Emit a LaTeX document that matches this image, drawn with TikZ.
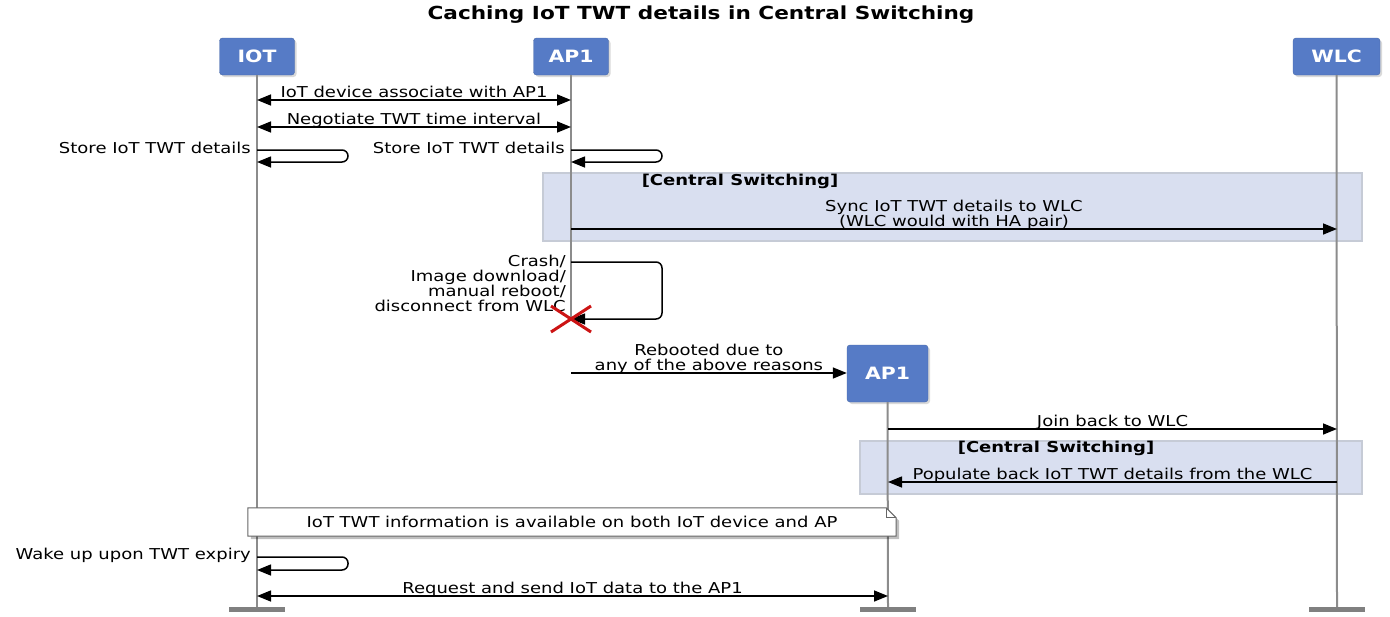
\documentclass[tikz,border=0pt]{standalone}
\usepackage{fontspec}
\setmainfont{DejaVu Sans}[FakeStretch=1.2]
\usepackage{tikz}
\usetikzlibrary{arrows.meta,positioning,shadows}

\definecolor{partblue}{RGB}{86,123,198}
\definecolor{grpfill}{RGB}{217,223,240}
\definecolor{grpline}{RGB}{198,203,214}
\definecolor{lifegrey}{RGB}{140,140,140}
\definecolor{crashred}{RGB}{204,20,20}

\begin{document}
\begin{tikzpicture}[x=1pt, y=-1pt, font=\fontsize{15}{16}\selectfont]
\tikzstyle{part}=[rectangle, rounded corners=3pt, fill=partblue, draw=partblue!85!black,
                  text=white, font=\fontsize{17}{18}\selectfont\bfseries,
                  minimum width=75pt, minimum height=37pt,
                  drop shadow={shadow xshift=2pt, shadow yshift=-2pt, opacity=.3}]
\tikzstyle{life}=[line width=2pt, lifegrey]
\tikzstyle{foot}=[rectangle, fill=gray, inner sep=0pt, minimum width=56pt, minimum height=5pt]
\tikzstyle{msg}=[line width=1.5pt, -{Triangle[length=14pt,width=11pt]}]
\tikzstyle{dmsg}=[line width=1.5pt, {Triangle[length=14pt,width=11pt]}-{Triangle[length=14pt,width=11pt]}]
\tikzstyle{lbl}=[anchor=base, inner sep=0pt, yshift=2.5pt]
\tikzstyle{mlbl}=[above, inner sep=0pt, yshift=-1.5pt, align=center, font=\fontsize{15}{15}\selectfont]
\tikzstyle{grp}=[rectangle, fill=grpfill, draw=grpline, line width=1.5pt, inner sep=0pt]
\tikzstyle{grplabel}=[font=\fontsize{15}{16}\selectfont\bfseries]
\useasboundingbox (0,0) rectangle (1390,616);

% title
\node[font=\fontsize{18}{20}\selectfont\bfseries] (title) at (701,15)
     {Caching IoT TWT details in Central Switching};

% group boxes
\node[grp, minimum width=819pt, minimum height=68pt] (grpa) at (952.5,207) {};
\node[grplabel] (grpalbl) at (740,181) {[Central Switching]};
\node[grp, minimum width=502pt, minimum height=53pt] (grpb) at (1111,467.5) {};
\node[grplabel] (grpblbl) at (1056,448) {[Central Switching]};

% participants and lifelines
\node[part] (iot) at (257,56.5) {IOT};
\node[part] (ap) at (571,56.5) {AP1};
\node[part, minimum width=87pt] (wlc) at (1336.5,56.5) {WLC};
\node[part, minimum width=81pt, minimum height=57pt] (apnew) at (887.5,373.5) {AP1};
\coordinate (iotend) at (257,607);
\coordinate (apx) at (571,319);
\coordinate (apnewend) at (888,607);
\coordinate (wlcend) at (1337,607);
\draw[life] (iot.south) -- (iotend);
\draw[life] (ap.south) -- (apx);
\draw[life] (apnew.south) -- (apnewend);
\draw[life] (wlc.south) -- (wlcend);
\node[foot] (iotfoot) at (257,609.5) {};
\node[foot] (apnewfoot) at (888,609.5) {};
\node[foot] (wlcfoot) at (1337,609.5) {};

% association
\coordinate (iota) at (257,100);  \coordinate (apa) at (571,100);
\draw[dmsg] (iota) -- node[lbl] {IoT device associate with AP1} (apa);
\coordinate (iotb) at (257,127);  \coordinate (apb) at (571,127);
\draw[dmsg] (iotb) -- node[lbl] {Negotiate TWT time interval} (apb);

% store details
\coordinate (iots) at (257,150);  \coordinate (iotse) at (257,162);
\draw[msg, rounded corners=6pt] (iots) -- ++(91,0) |- (iotse);
\node[anchor=east, inner sep=0pt] (iotslbl) at (251,148) {Store IoT TWT details};
\coordinate (aps) at (571,150);   \coordinate (apse) at (571,162);
\draw[msg, rounded corners=6pt] (aps) -- ++(91,0) |- (apse);
\node[anchor=east, inner sep=0pt] (apslbl) at (565,148) {Store IoT TWT details};

% sync to WLC
\coordinate (apc) at (571,229);   \coordinate (wlcc) at (1337,229);
\draw[msg] (apc) -- node[mlbl]
      {Sync IoT TWT details to WLC\\(WLC would with HA pair)} (wlcc);

% crash
\coordinate (apd) at (571,262);
\draw[msg, rounded corners=6pt] (apd) -- ++(91,0) |- (apx);
\node[anchor=north east, inner sep=0pt, align=right, font=\fontsize{15}{14.5}\selectfont]
      (crashlbl) at (566,255) {Crash/\\Image download/\\manual reboot/\\disconnect from WLC};
\draw[crashred, line width=3pt] (551,306) -- (591,332) (551,332) -- (591,306);

% reboot
\coordinate (apr) at (571,373);
\draw[msg] (apr) -- node[mlbl]
      {Rebooted due to\\any of the above reasons} (apnew.west |- apr);

% join back
\coordinate (apnewj) at (888,429); \coordinate (wlcj) at (1337,429);
\draw[msg] (apnewj) -- node[lbl] {Join back to WLC} (wlcj);
\coordinate (wlcp) at (1337,482);  \coordinate (apnewp) at (888,482);
\draw[msg] (wlcp) -- node[lbl] {Populate back IoT TWT details from the WLC} (apnewp);

% note
\node[minimum width=648pt, minimum height=28pt, inner sep=0pt] (note) at (572,522) {};
\fill[black, opacity=.25] ([shift={(3,3)}]note.north west) -- ([shift={(-7,3)}]note.north east)
     -- ([shift={(3,13)}]note.north east) -- ([shift={(3,3)}]note.south east)
     -- ([shift={(3,3)}]note.south west) -- cycle;
\filldraw[fill=white, draw=gray!80!black, line width=1pt] (note.north west)
     -- ([shift={(-10,0)}]note.north east) -- ([shift={(0,10)}]note.north east)
     -- (note.south east) -- (note.south west) -- cycle;
\draw[gray!80!black, line width=1pt] ([shift={(-10,0)}]note.north east) |- ([shift={(0,10)}]note.north east);
\node (notetxt) at (note.center) {IoT TWT information is available on both IoT device and AP};

% wake up
\coordinate (iotw) at (257,557);  \coordinate (iotwe) at (257,570);
\draw[msg, rounded corners=6pt] (iotw) -- ++(91,0) |- (iotwe);
\node[anchor=east, inner sep=0pt] (iotwlbl) at (251,555) {Wake up upon TWT expiry};

% request data
\coordinate (iotq) at (257,596);  \coordinate (apnewq) at (888,596);
\draw[dmsg] (iotq) -- node[lbl] {Request and send IoT data to the AP1} (apnewq);
\end{tikzpicture}
\end{document}
